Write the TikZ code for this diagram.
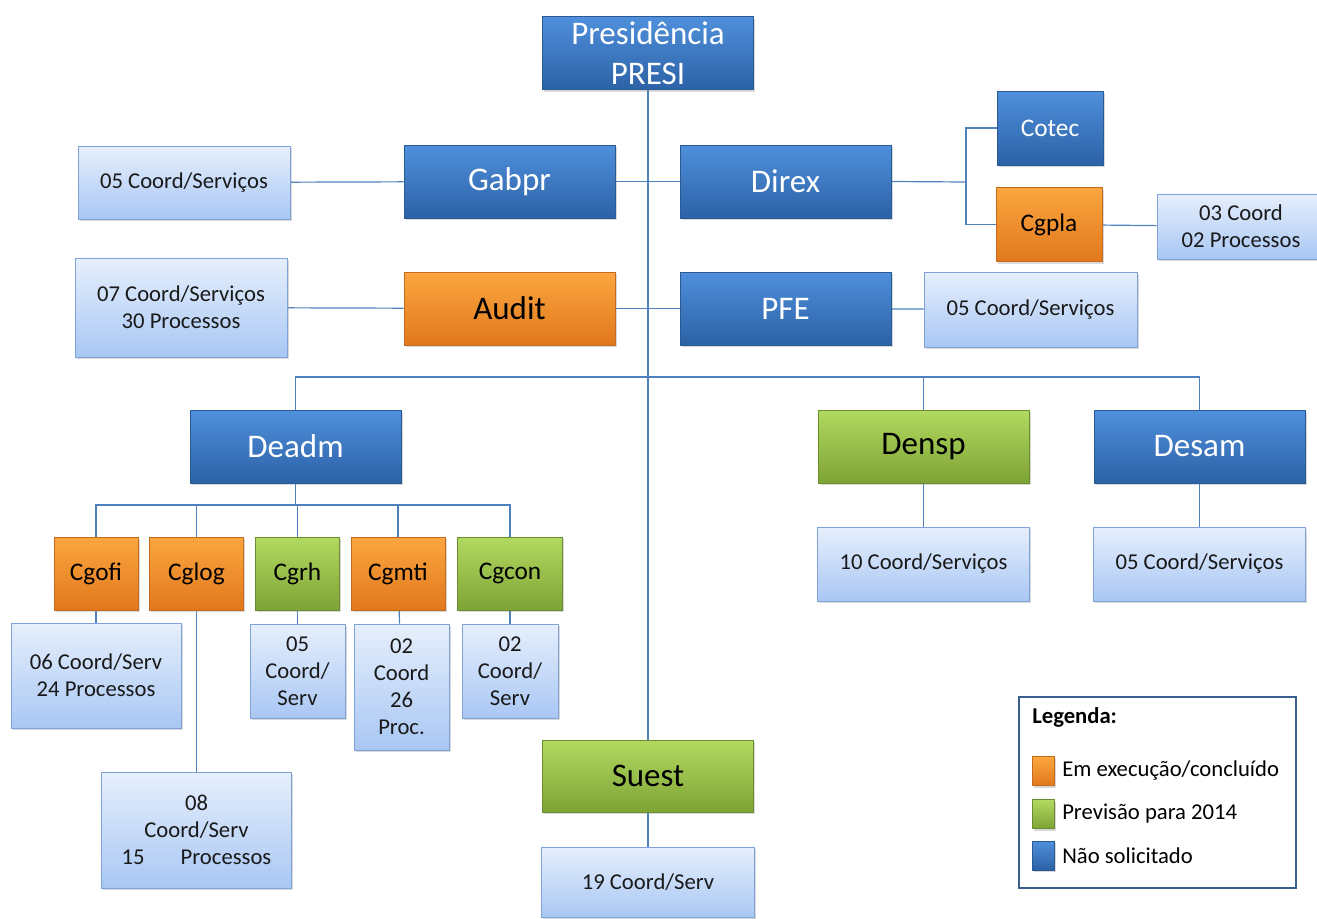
\documentclass[tikz,border=0pt]{standalone}
\usepackage{fontspec}
\setmainfont{Carlito}
\usepackage{tikz}
\usetikzlibrary{shadows}
\usetikzlibrary{backgrounds}
\definecolor{blueTop}{HTML}{4F8FDB}
\definecolor{blueBot}{HTML}{2C62A6}
\definecolor{blueEdge}{HTML}{2A5A96}
\definecolor{orangeTop}{HTML}{FBA640}
\definecolor{orangeBot}{HTML}{E1781C}
\definecolor{orangeEdge}{HTML}{C66A1C}
\definecolor{greenTop}{HTML}{B2D960}
\definecolor{greenBot}{HTML}{7EA336}
\definecolor{greenEdge}{HTML}{6C8C30}
\definecolor{infoTop}{HTML}{E6EFFC}
\definecolor{infoBot}{HTML}{A9C7F4}
\definecolor{infoEdge}{HTML}{7FA3D6}
\definecolor{lineBlue}{HTML}{4F81BD}
\definecolor{legendEdge}{HTML}{3A5F8F}
\newcommand{\bigfont}{\fontsize{24.75pt}{30pt}\selectfont}
\newcommand{\midfont}{\fontsize{19pt}{23pt}\selectfont}
\newcommand{\smallfont}{\fontsize{17pt}{20.25pt}\selectfont}
\tikzstyle{unitnode}=[shape=rectangle, line width=0.75pt, inner sep=0pt, align=center, drop shadow={shadow xshift=1.2pt, shadow yshift=-1.8pt, opacity=0.3}]
\tikzstyle{bluenode}=[unitnode, top color=blueTop, bottom color=blueBot, draw=blueEdge, text=white]
\tikzstyle{orangenode}=[unitnode, top color=orangeTop, bottom color=orangeBot, draw=orangeEdge, text=black]
\tikzstyle{greennode}=[unitnode, top color=greenTop, bottom color=greenBot, draw=greenEdge, text=black]
\tikzstyle{infonode}=[unitnode, top color=infoTop, bottom color=infoBot, draw=infoEdge, text=black!90, font=\smallfont]
\tikzstyle{link}=[draw=lineBlue, line width=0.9pt]
\begin{document}
\begin{tikzpicture}[x=0.75pt, y=-0.75pt]
\useasboundingbox (0,0) rectangle (1317,918);

% top level
\node [bluenode, font=\bigfont, minimum width=158.25pt, minimum height=54.75pt] (presi) at (648,53) {Presidência\\PRESI};
\node [bluenode, font=\bigfont, minimum width=158.25pt, minimum height=54.75pt] (gabpr) at (509.5,181.5) {Gabpr};
\node [bluenode, font=\bigfont, minimum width=158.25pt, minimum height=54.75pt] (direx) at (785.5,181.5) {Direx};
\node [orangenode, font=\bigfont, minimum width=158.25pt, minimum height=54.75pt] (audit) at (509.5,308.5) {Audit};
\node [bluenode, font=\bigfont, minimum width=158.25pt, minimum height=54.75pt] (pfe) at (785.5,308.5) {PFE};
\node [bluenode, font=\midfont, minimum width=79.5pt, minimum height=55.5pt] (cotec) at (1050,128) {Cotec};
\node [orangenode, font=\midfont, minimum width=79.5pt, minimum height=55.5pt] (cgpla) at (1049,224.5) {Cgpla};

\node [infonode, minimum width=159pt, minimum height=54.75pt] (gabprinfo) at (184,182.5) {05 Coord/Serviços};
\node [infonode, minimum width=159pt, minimum height=74.25pt] (auditinfo) at (181,307.5) {07 Coord/Serviços\\30 Processos};
\node [infonode, minimum width=159.75pt, minimum height=56.25pt] (pfeinfo) at (1030.5,309.5) {05 Coord/Serviços};
\node [infonode, minimum width=126pt, minimum height=48.75pt] (cgplainfo) at (1241,226.5) {03 Coord\\02 Processos};

% departments
\node [bluenode, font=\bigfont, minimum width=158.25pt, minimum height=54.75pt] (deadm) at (295.5,446.5) {Deadm};
\node [greennode, font=\bigfont, minimum width=158.25pt, minimum height=54.75pt] (densp) at (923.5,446.5) {Densp};
\node [bluenode, font=\bigfont, minimum width=158.25pt, minimum height=54.75pt] (desam) at (1199.5,446.5) {Desam};
\node [infonode, minimum width=159pt, minimum height=55.5pt] (denspinfo) at (923.5,564) {10 Coord/Serviços};
\node [infonode, minimum width=159pt, minimum height=55.5pt] (desaminfo) at (1199.5,564) {05 Coord/Serviços};

% Deadm units
\node [orangenode, font=\midfont, minimum width=63pt, minimum height=54.75pt] (cgofi) at (96,573.5) {Cgofi};
\node [orangenode, font=\midfont, minimum width=70.5pt, minimum height=54.75pt] (cglog) at (196.5,573.5) {Cglog};
\node [greennode, font=\midfont, minimum width=63pt, minimum height=54.75pt] (cgrh) at (297.5,573.5) {Cgrh};
\node [orangenode, font=\midfont, minimum width=70.5pt, minimum height=54.75pt] (cgmti) at (398,573.5) {Cgmti};
\node [greennode, font=\midfont, minimum width=78.75pt, minimum height=54.75pt] (cgcon) at (510,573.5) {Cgcon};

\node [infonode, minimum width=127.5pt, minimum height=78.75pt] (cgofiinfo) at (96,675.5) {06 Coord/Serv\\24 Processos};
\node [infonode, minimum width=142.5pt, minimum height=87pt] (cgloginfo) at (196.5,830) {08\\Coord/Serv\\15\hspace{27pt}Processos};
\node [infonode, minimum width=71.25pt, minimum height=70.5pt] (cgrhinfo) at (297.5,671) {05\\Coord/\\Serv};
\node [infonode, minimum width=71.25pt, minimum height=94.5pt] (cgmtiinfo) at (401.5,687) {02\\Coord\\26\\Proc.};
\node [infonode, minimum width=72pt, minimum height=70.5pt] (cgconinfo) at (510,671) {02\\Coord/\\Serv};

% Suest
\node [greennode, font=\bigfont, minimum width=158.25pt, minimum height=54pt] (suest) at (648,776) {Suest};
\node [infonode, minimum width=159.75pt, minimum height=52.5pt] (suestinfo) at (648,882) {19 Coord/Serv};

% legend
\node [draw=legendEdge, line width=1.5pt, fill=white, minimum width=207.75pt, minimum height=143.25pt] (legend) at (1157.5,792.5) {};
\node [anchor=west, inner sep=0pt, font=\smallfont\bfseries] (legendtitle) at (1032,717) {Legenda:};
\node [orangenode, minimum width=16.5pt, minimum height=21.75pt] (keyorange) at (1043,771) {};
\node [greennode, minimum width=16.5pt, minimum height=21.75pt] (keygreen) at (1043,814) {};
\node [bluenode, minimum width=16.5pt, minimum height=21.75pt] (keyblue) at (1043,855.5) {};
\node [anchor=west, inner sep=0pt, font=\smallfont] (keyorangetext) at (1062,771) {Em execução/concluído};
\node [anchor=west, inner sep=0pt, font=\smallfont] (keygreentext) at (1062,814) {Previsão para 2014};
\node [anchor=west, inner sep=0pt, font=\smallfont] (keybluetext) at (1062,855.5) {Não solicitado};

\coordinate (techbus) at (966,182);
\coordinate (mainbus) at (648,377);
\coordinate (admbus) at (296,505);

\begin{scope}[on background layer]
\draw[link] (presi) -- (suest);
\draw[link] (gabprinfo) -- (gabpr);
\draw[link] (gabpr) -- (direx);
\draw[link] (direx.east) -- (techbus);
\draw[link] (cotec.west) -| (techbus) |- (cgpla.west);
\draw[link] (cgpla) -- (cgplainfo);
\draw[link] (auditinfo) -- (audit);
\draw[link] (audit) -- (pfe);
\draw[link] (pfe) -- (pfeinfo);
\draw[link] (deadm.north) |- (mainbus) -| (desam.north);
\draw[link] (densp.north) -- (densp.north |- mainbus);
\draw[link] (densp) -- (denspinfo);
\draw[link] (desam) -- (desaminfo);
\draw[link] (deadm.south) -- (deadm.south |- admbus);
\draw[link] (cgofi.north) |- (admbus) -| (cgcon.north);
\draw[link] (cglog.north) -- (cglog.north |- admbus);
\draw[link] (cgrh.north) -- (cgrh.north |- admbus);
\draw[link] (cgmti.north) -- (cgmti.north |- admbus);
\draw[link] (cgofi) -- (cgofiinfo);
\draw[link] (cglog) -- (cgloginfo);
\draw[link] (cgrh) -- (cgrhinfo);
\draw[link] (cgmti) -- (cgmtiinfo);
\draw[link] (cgcon) -- (cgconinfo);
\draw[link] (suest) -- (suestinfo);
\end{scope}
\end{tikzpicture}
\end{document}
